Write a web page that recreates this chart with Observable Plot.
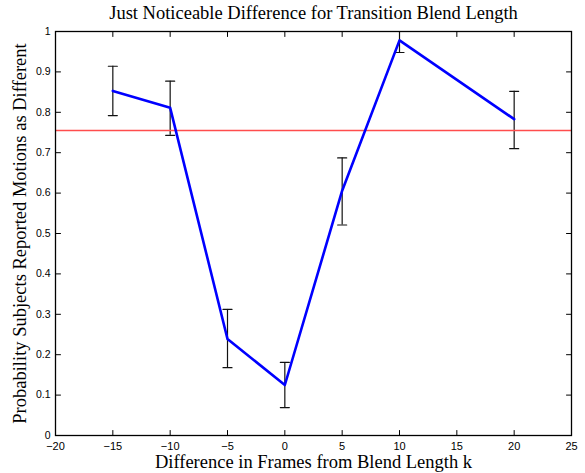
<!DOCTYPE html>
<html>
<head>
<meta charset="utf-8">
<script src="https://cdn.jsdelivr.net/npm/d3@7"></script>
<script src="https://cdn.jsdelivr.net/npm/@observablehq/plot@0.6"></script>
<style>
  html, body { margin: 0; padding: 0; background: #fff; }
</style>
</head>
<body>
<div id="chart"></div>
<script>
// ---- data ----
const frames   = [-15, -10, -5, 0, 5, 10, 20];
const prob     = [0.853, 0.811, 0.239, 0.125, 0.606, 0.978, 0.783];
const errLow   = [0.792, 0.743, 0.168, 0.069, 0.521, 0.948, 0.710];
const errHigh  = [0.914, 0.877, 0.312, 0.181, 0.687, 1.000, 0.852];
const threshold = [0.755];
const xTicks = [-20, -15, -10, -5, 0, 5, 10, 15, 20, 25];
const yTicks = [0, 0.1, 0.2, 0.3, 0.4, 0.5, 0.6, 0.7, 0.8, 0.9, 1];
const titleText = "Just Noticeable Difference for Transition Blend Length";
const xLabel = "Difference in Frames from Blend Length k";
const yLabel = "Probability Subjects Reported Motions as Different";

const data = frames.map((f, i) => ({x: f, y: prob[i], lo: errLow[i], hi: errHigh[i]}));

const line = {draw(ctx, l) { ctx.moveTo(0, 0); ctx.lineTo(0, -l); }};
const serif = "'Liberation Serif', 'DejaVu Serif', serif";
const sans = "'Liberation Sans', Arial, sans-serif";
const fmtX = d => d < 0 ? "\u2212" + Math.abs(d) : String(d);
const fmtY = d => String(d);

const chart = Plot.plot({
  width: 585,
  height: 473,
  marginLeft: 55,
  marginRight: 14,
  marginTop: 31,
  marginBottom: 38,
  style: {background: "#fff", fontFamily: sans},
  x: {domain: [-20, 25]},
  y: {domain: [0, 1]},
  marks: [
    Plot.axisX(xTicks, {tickSize: 0, tickPadding: 6.5, fontSize: 11, fill: "#000", fontFamily: sans, tickFormat: fmtX, label: null}),
    Plot.axisY(yTicks, {tickSize: 0, tickPadding: 5, fontSize: 10.5, fill: "#000", fontFamily: sans, tickFormat: fmtY, label: null}),
    // inward ticks on all four sides
    Plot.vector(xTicks, {x: d => d, y: 0, length: 5, rotate: 0, anchor: "start", shape: line, stroke: "#000", strokeWidth: 1}),
    Plot.vector(xTicks, {x: d => d, y: 1, length: 5, rotate: 180, anchor: "start", shape: line, stroke: "#000", strokeWidth: 1}),
    Plot.vector(yTicks, {y: d => d, x: -20, length: 5, rotate: 90, anchor: "start", shape: line, stroke: "#000", strokeWidth: 1}),
    Plot.vector(yTicks, {y: d => d, x: 25, length: 5, rotate: 270, anchor: "start", shape: line, stroke: "#000", strokeWidth: 1}),
    // error bars
    Plot.ruleX(data, {x: "x", y1: "lo", y2: "hi", stroke: "#111", strokeWidth: 1.2}),
    Plot.vector(data, {x: "x", y: "lo", length: 9, rotate: 90, anchor: "middle", shape: line, stroke: "#111", strokeWidth: 1.2}),
    Plot.vector(data, {x: "x", y: "hi", length: 9, rotate: 90, anchor: "middle", shape: line, stroke: "#111", strokeWidth: 1.2}),
    // threshold
    Plot.ruleY(threshold, {stroke: "#ff4d4d", strokeWidth: 1.3}),
    // main line
    Plot.line(data, {x: "x", y: "y", stroke: "#0000ff", strokeWidth: 2.6}),
    Plot.frame({stroke: "#000", strokeWidth: 1.3}),
    // title and axis labels
    Plot.text([titleText], {frameAnchor: "top", dy: -18, fontSize: 18.5, fontFamily: serif, fill: "#000", lineAnchor: "middle", textAnchor: "middle"}),
    Plot.text([xLabel], {frameAnchor: "bottom", dy: 27, fontSize: 18.5, fontFamily: serif, fill: "#000", lineAnchor: "middle", textAnchor: "middle"}),
    Plot.text([yLabel], {frameAnchor: "left", dx: -35, rotate: -90, fontSize: 18.5, fontFamily: serif, fill: "#000", lineAnchor: "middle", textAnchor: "middle"})
  ]
});
document.getElementById("chart").appendChild(chart);
</script>
</body>
</html>
